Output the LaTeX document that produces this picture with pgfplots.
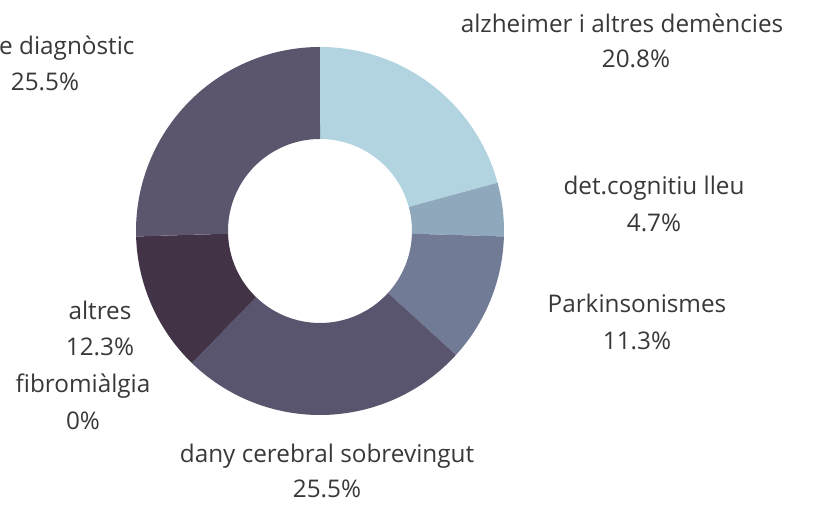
\documentclass[border=0pt]{standalone}
\usepackage{pgfplots}
\pgfplotsset{compat=1.18}
\usetikzlibrary{calc}
\usepackage{fontspec}
\setmainfont{Open Sans}
\definecolor{cA}{HTML}{B2D4E0}
\definecolor{cB}{HTML}{8FA8BB}
\definecolor{cC}{HTML}{717B95}
\definecolor{cD}{HTML}{5A556E}
\definecolor{cF}{HTML}{433346}
\definecolor{cG}{HTML}{5B566E}
\definecolor{txt}{HTML}{383838}
% start (cumulative %), value (%), colour
\newcommand\sector[3]{%
  \fill[#3] ($(axis cs:320,274)+({90-3.6*(#1)/1.001}:184pt)$)
    arc[start angle={90-3.6*(#1)/1.001}, end angle={90-3.6*(#1+#2)/1.001}, radius=184pt]
    -- ($(axis cs:320,274)+({90-3.6*(#1+#2)/1.001}:92pt)$)
    arc[start angle={90-3.6*(#1+#2)/1.001}, end angle={90-3.6*(#1)/1.001}, radius=92pt]
    -- cycle;}
\newcommand\lab[4]{\node[anchor=base, text=txt, inner sep=0pt, font=\fontsize{24.3}{28}\selectfont] at (axis cs:#1,#2) {#4};}
\begin{document}
\begin{tikzpicture}
\begin{axis}[scale only axis, width=825pt, height=505pt,
  xmin=0, xmax=825, ymin=0, ymax=505,
  at={(0,0)}, anchor=south west, hide axis, clip=false]
\addplot[draw=none, forget plot] coordinates {(0,0) (825,505)};
% values: alzheimer 20.8, det.cognitiu 4.7, Parkinsonismes 11.3,
% dany cerebral 25.5, fibromialgia 0, altres 12.3, sense diagnostic 25.5
\sector{0}{20.8}{cA}
\sector{20.8}{4.7}{cB}
\sector{25.5}{11.3}{cC}
\sector{36.8}{25.5}{cD}
\sector{62.3}{12.3}{cF}
\sector{74.6}{25.5}{cG}
\lab{622}{472}{}{alzheimer i altres demències}
\lab{636}{437}{}{20.8\%}
\lab{654}{310}{}{det.cognitiu lleu}
\lab{654}{273}{}{4.7\%}
\lab{637}{192}{}{Parkinsonismes}
\lab{637}{155}{}{11.3\%}
\lab{327}{42}{}{dany cerebral sobrevingut}
\lab{327}{7}{}{25.5\%}
\lab{100}{185}{}{altres}
\lab{100}{149}{}{12.3\%}
\lab{83}{112}{}{fibromiàlgia}
\lab{83}{75}{}{0\%}
\lab{41}{450}{}{sense diagnòstic}
\lab{45}{414}{}{25.5\%}
\end{axis}
\pgfresetboundingbox
\path[use as bounding box] (0,0) rectangle (825pt,505pt);
\end{tikzpicture}
\end{document}
